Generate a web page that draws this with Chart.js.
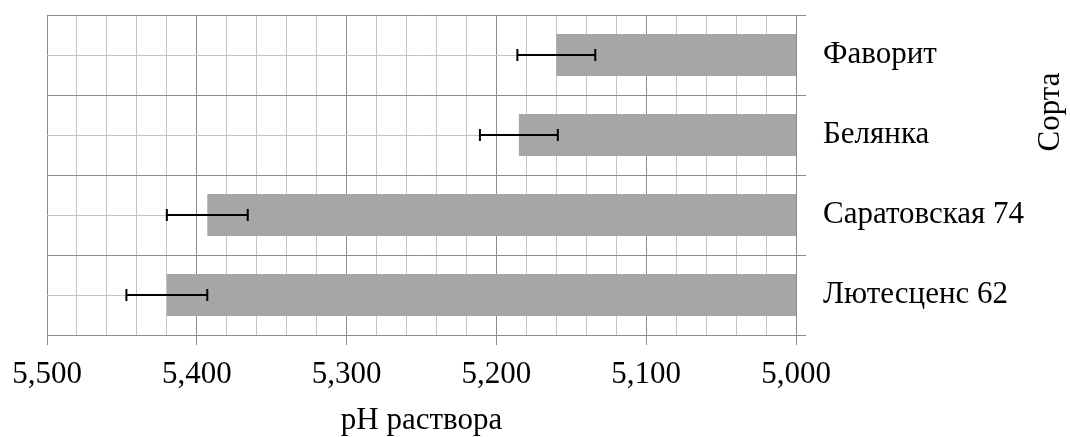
<!DOCTYPE html>
<html lang="ru">
<head>
<meta charset="utf-8">
<title>pH раствора по сортам</title>
<script src="https://cdn.jsdelivr.net/npm/chart.js@4.4.1/dist/chart.umd.min.js"></script>
<style>
    html, body { margin: 0; padding: 0; background: #ffffff; }
    #wrap { width: 1070px; height: 437px; }
</style>
</head>
<body>
<div id="wrap"><canvas id="phChart" width="1070" height="437"></canvas></div>
<script>
// dados
const sortas = ['Фаворит', 'Белянка', 'Саратовская 74', 'Лютесценс 62'];
const valoresPh = [5.160, 5.185, 5.393, 5.420];
const errosPh = [0.026, 0.026, 0.027, 0.027];
const eixoMin = 5.0;
const eixoMax = 5.5;
const passoMenor = 0.02;

const corMaior = '#8c8c8c';
const corMenor = '#c4c4c4';
const fonteSerif = 'Liberation Serif';

function ehMaior(valor) {
    return Math.round(valor * 100) % 10 === 0;
}

function formatarTick(valor) {
    return valor.toFixed(3).replace('.', ',');
}

// linhas secundárias horizontais, no centro de cada categoria
const pluginGradeMenor = {
    id: 'gradeMenor',
    beforeDatasetsDraw(chart) {
        const ctx = chart.ctx;
        const area = chart.chartArea;
        const y = chart.scales.y;
        ctx.save();
        ctx.strokeStyle = corMenor;
        ctx.lineWidth = 1;
        sortas.forEach((s, i) => {
            const yc = Math.round(y.getPixelForValue(i)) + 0.5;
            ctx.beginPath();
            ctx.moveTo(area.left, yc);
            ctx.lineTo(area.right, yc);
            ctx.stroke();
        });
        ctx.restore();
    }
};

// barras de erro
const pluginErros = {
    id: 'barrasErro',
    afterDatasetsDraw(chart) {
        const ctx = chart.ctx;
        const x = chart.scales.x;
        const y = chart.scales.y;
        ctx.save();
        ctx.strokeStyle = '#000000';
        ctx.lineWidth = 2;
        valoresPh.forEach((v, i) => {
            const yc = Math.round(y.getPixelForValue(i));
            const x1 = x.getPixelForValue(v - errosPh[i]);
            const x2 = x.getPixelForValue(v + errosPh[i]);
            ctx.beginPath();
            ctx.moveTo(x1, yc);
            ctx.lineTo(x2, yc);
            ctx.moveTo(x1, yc - 6);
            ctx.lineTo(x1, yc + 6);
            ctx.moveTo(x2, yc - 6);
            ctx.lineTo(x2, yc + 6);
            ctx.stroke();
        });
        ctx.restore();
    }
};

// título do eixo vertical (lido de baixo para cima)
const pluginTituloSorta = {
    id: 'tituloSorta',
    afterDraw(chart) {
        const ctx = chart.ctx;
        ctx.save();
        ctx.translate(1051, 112);
        ctx.rotate(-Math.PI / 2);
        ctx.font = '31px "' + fonteSerif + '"';
        ctx.fillStyle = '#000000';
        ctx.textAlign = 'center';
        ctx.textBaseline = 'middle';
        ctx.fillText('Сорта', 0, 0);
        ctx.restore();
    }
};

const ctx = document.getElementById('phChart').getContext('2d');
new Chart(ctx, {
    type: 'bar',
    data: {
        labels: sortas,
        datasets: [{
            label: 'pH',
            data: valoresPh,
            backgroundColor: '#a6a6a6',
            borderWidth: 0,
            barPercentage: 0.525,
            categoryPercentage: 1
        }]
    },
    options: {
        indexAxis: 'y',
        responsive: false,
        animation: false,
        layout: { padding: { left: 47, top: 15, right: 0, bottom: 0 } },
        plugins: {
            legend: { display: false },
            tooltip: { enabled: false }
        },
        scales: {
            x: {
                reverse: true,
                min: eixoMin,
                max: eixoMax,
                afterFit: function(scale) { scale.height = 102; },
                ticks: {
                    stepSize: passoMenor,
                    autoSkip: false,
                    maxRotation: 0,
                    padding: 11,
                    color: '#000000',
                    font: { family: fonteSerif, size: 31 },
                    callback: function(value) {
                        return ehMaior(value) ? formatarTick(value) : '';
                    }
                },
                grid: {
                    color: c => (c.tick && ehMaior(c.tick.value)) ? corMaior : corMenor,
                    tickColor: c => (c.tick && ehMaior(c.tick.value)) ? corMaior : 'rgba(0,0,0,0)',
                    tickLength: 10
                },
                border: { color: corMaior },
                title: {
                    display: true,
                    text: 'pH раствора',
                    color: '#000000',
                    font: { family: fonteSerif, size: 31, lineHeight: 1 },
                    padding: { top: 0, bottom: 1 }
                }
            },
            y: {
                position: 'right',
                afterFit: function(scale) {
                    scale.width = 274;
                    // sem folga extra acima/abaixo da área do gráfico
                    scale.paddingTop = 0;
                    scale.paddingBottom = 0;
                },
                ticks: {
                    padding: 17,
                    color: '#000000',
                    font: { family: fonteSerif, size: 31 }
                },
                grid: {
                    offset: true,
                    color: corMaior,
                    tickColor: corMaior,
                    tickLength: 10
                },
                border: { color: corMaior }
            }
        }
    },
    plugins: [pluginGradeMenor, pluginErros, pluginTituloSorta]
});
</script>
</body>
</html>
